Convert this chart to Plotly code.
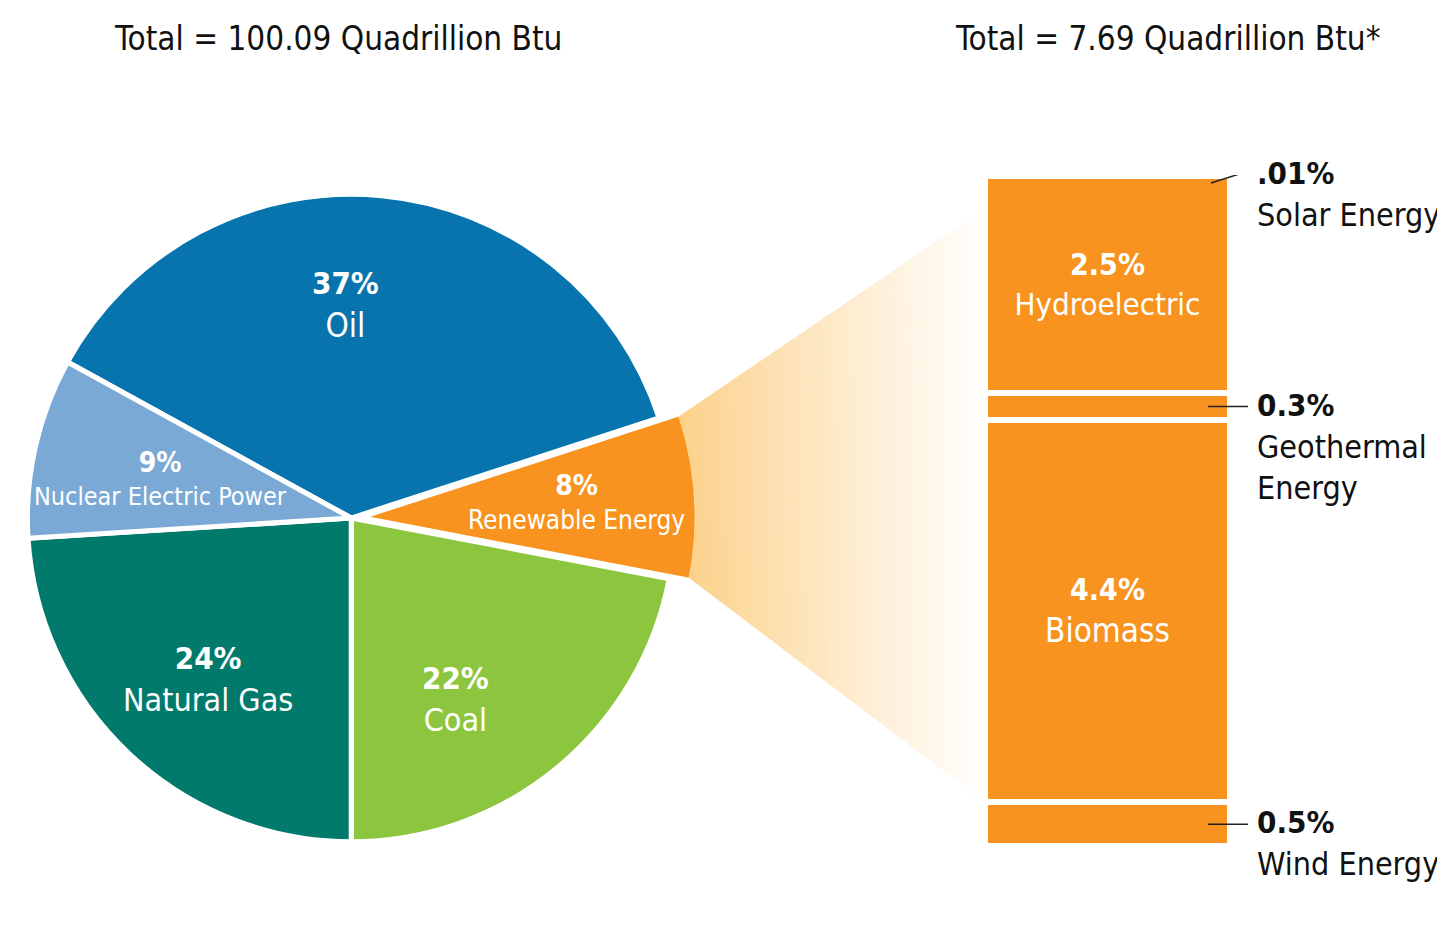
import plotly.graph_objects as go
import numpy as np

# ---------------- data ----------------
pie_labels = ["Oil", "Renewable Energy", "Coal", "Natural Gas", "Nuclear Electric Power"]
pie_values = [37, 8, 22, 24, 9]
pie_colors = ["#0774ae", "#f7931e", "#8cc63f", "#027a6b", "#7ba9d6"]

ren_labels = ["Wind Energy", "Biomass", "Geothermal<br>Energy", "Hydroelectric", "Solar Energy"]
ren_values = [0.5, 4.4, 0.3, 2.5, 0.01]
ren_pct_text = ["0.5%", "4.4%", "0.3%", "2.5%", ".01%"]
ren_inside = [False, True, False, True, False]

total_all = "100.09"
total_ren = "7.69"

# ---------------- layout constants ----------------
W, H = 1445, 937
FONT = "DejaVu Sans Condensed, Liberation Sans Narrow, Arial Narrow, sans-serif"
ORANGE = "#f7931e"

pie_dom_x = [0.0, 0.475]
pie_dom_y = [0.0857, 0.8257]
pull = 0.06
tot = sum(pie_values)
# rotate so the Coal / Natural Gas boundary points straight down
rotation = 180 - 360 * sum(pie_values[:3]) / tot

bar_dom_x = [977 / W, 1222 / W]
bar_dom_y = [(H - 838) / H, (H - 167) / H]


def two_line(pct, label, pct_size):
    return f"<span style='font-size:{pct_size}px'><b>{pct}</b></span><br>{label}"


fig = go.Figure()

# ---------------- pie ----------------
line_w = [5 if lab != "Renewable Energy" else 0 for lab in pie_labels]
fig.add_trace(go.Pie(
    labels=pie_labels, values=pie_values, sort=False, direction="clockwise",
    rotation=rotation, pull=[pull if lab == "Renewable Energy" else 0 for lab in pie_labels],
    marker=dict(colors=pie_colors, line=dict(color="white", width=line_w)),
    textinfo="none", hoverinfo="label+percent", showlegend=False,
    domain=dict(x=pie_dom_x, y=pie_dom_y),
))

# ---------------- stacked bar ----------------
bar_label_size = {"Hydroelectric": 31, "Biomass": 33}
for lab, val, pct, ins in zip(ren_labels, ren_values, ren_pct_text, ren_inside):
    fig.add_trace(go.Bar(
        x=["Renewable"], y=[val], name=lab.replace("<br>", " "),
        marker=dict(color=ORANGE, line=dict(color="white", width=6)),
        text=[two_line(pct, lab, 30) if ins else ""],
        textposition="inside", insidetextanchor="middle", textangle=0,
        insidetextfont=dict(family=FONT, size=bar_label_size.get(lab, 31), color="white"),
        showlegend=False, hoverinfo="name+y",
    ))

ren_total = sum(ren_values)
fig.update_layout(
    barmode="stack", bargap=0,
    width=W, height=H, margin=dict(l=0, r=0, t=0, b=0),
    paper_bgcolor="white", plot_bgcolor="white",
    xaxis=dict(domain=bar_dom_x, range=[-0.5, 0.5], visible=False, fixedrange=True),
    yaxis=dict(domain=bar_dom_y, range=[0, ren_total], visible=False, fixedrange=True),
    font=dict(family=FONT),
)

# ---------------- connector wedge (gradient) ----------------
rx = W * (pie_dom_x[1] - pie_dom_x[0]) / 2
ry = H * (pie_dom_y[1] - pie_dom_y[0]) / 2
r = min(rx, ry) / (1 + pull)
cx = W * (pie_dom_x[0] + pie_dom_x[1]) / 2
cy = H * (1 - (pie_dom_y[0] + pie_dom_y[1]) / 2)
i_ren = pie_labels.index("Renewable Energy")
a1 = np.radians(rotation + 360 * sum(pie_values[:i_ren]) / tot)
a2 = np.radians(rotation + 360 * sum(pie_values[:i_ren + 1]) / tot)
am = (a1 + a2) / 2
pcx = cx + pull * r * np.sin(am)
pcy = cy - pull * r * np.cos(am)
A = np.array([pcx + r * np.sin(a1), pcy - r * np.cos(a1)])
D = np.array([pcx + r * np.sin(a2), pcy - r * np.cos(a2)])
B = np.array([978.0, 200.0])
C = np.array([978.0, 795.0])


def pp(p):
    return f"{p[0] / W:.5f},{1 - p[1] / H:.5f}"


c0 = np.array([252, 208, 136])
c1 = np.array([255, 255, 255])
shapes = []
col0 = "rgb(%d,%d,%d)" % tuple(c0)
shapes.append(dict(type="path", xref="paper", yref="paper", layer="below",
                   path=f"M {pp([pcx, pcy])} L {pp(A)} L {pp(D)} Z",
                   fillcolor=col0, line=dict(width=0)))
N = 60
for i in range(N):
    t0, t1 = i / N, min(1.0, (i + 1.6) / N)
    tm = (i + 0.5) / N
    col = c0 + (c1 - c0) * tm ** 0.9
    p1 = A + (B - A) * t0
    p2 = A + (B - A) * t1
    p3 = D + (C - D) * t1
    p4 = D + (C - D) * t0
    shapes.append(dict(type="path", xref="paper", yref="paper", layer="below",
                       path=f"M {pp(p1)} L {pp(p2)} L {pp(p3)} L {pp(p4)} Z",
                       fillcolor="rgb(%d,%d,%d)" % tuple(col.round().astype(int)),
                       line=dict(width=0)))

# ---------------- leader lines & right labels ----------------
annotations = []
cum = np.cumsum(ren_values)
mids = cum - np.array(ren_values) / 2
x_lab = 1247 / W
for lab, pct, ins, mid in zip(ren_labels, ren_pct_text, ren_inside, mids):
    if ins:
        continue
    if pct == ".01%":
        shapes.append(dict(type="line", xref="paper", yref="y", ysizemode="pixel",
                           yanchor=float(ren_total), x0=1203 / W, x1=1247 / W, y0=-8, y1=6,
                           line=dict(color="#222222", width=1.5)))
        y_anchor = float(ren_total)
    else:
        shapes.append(dict(type="line", xref="paper", yref="y",
                           x0=1200 / W, x1=1240 / W, y0=float(mid), y1=float(mid),
                           line=dict(color="#222222", width=1.5)))
        y_anchor = float(mid)
    annotations.append(dict(
        xref="paper", yref="y", x=x_lab, y=y_anchor, xanchor="left", yanchor="top",
        yshift=22, showarrow=False, align="left",
        text=two_line(pct, lab, 31),
        font=dict(family=FONT, size=32, color="#111111"),
    ))

# ---------------- pie labels ----------------
pie_label_pos = {            # x, y (px), label size, percent size
    "Oil": (337, 297, 33, 31),
    "Nuclear Electric Power": (152, 470, 25, 28),
    "Natural Gas": (200, 671, 32, 31),
    "Coal": (448, 691, 32, 31),
    "Renewable Energy": (568, 494, 26, 28),
}
for lab, val in zip(pie_labels, pie_values):
    x, y, s, ps = pie_label_pos[lab]
    annotations.append(dict(
        xref="paper", yref="paper", x=x / W, y=1 - y / H, xanchor="center", yanchor="middle",
        showarrow=False, text=two_line(f"{val}%", lab, ps),
        font=dict(family=FONT, size=s, color="white"),
    ))

# ---------------- titles ----------------
annotations.append(dict(xref="paper", yref="paper", x=330 / W, y=1 - 30 / H,
                        xanchor="center", yanchor="middle", showarrow=False,
                        text=f"Total = {total_all} Quadrillion Btu",
                        font=dict(family=FONT, size=33, color="#111111")))
annotations.append(dict(xref="paper", yref="paper", x=1160 / W, y=1 - 30 / H,
                        xanchor="center", yanchor="middle", showarrow=False,
                        text=f"Total = {total_ren} Quadrillion Btu*",
                        font=dict(family=FONT, size=33, color="#111111")))

fig.update_layout(shapes=shapes, annotations=annotations)
fig.write_html("out.html")
